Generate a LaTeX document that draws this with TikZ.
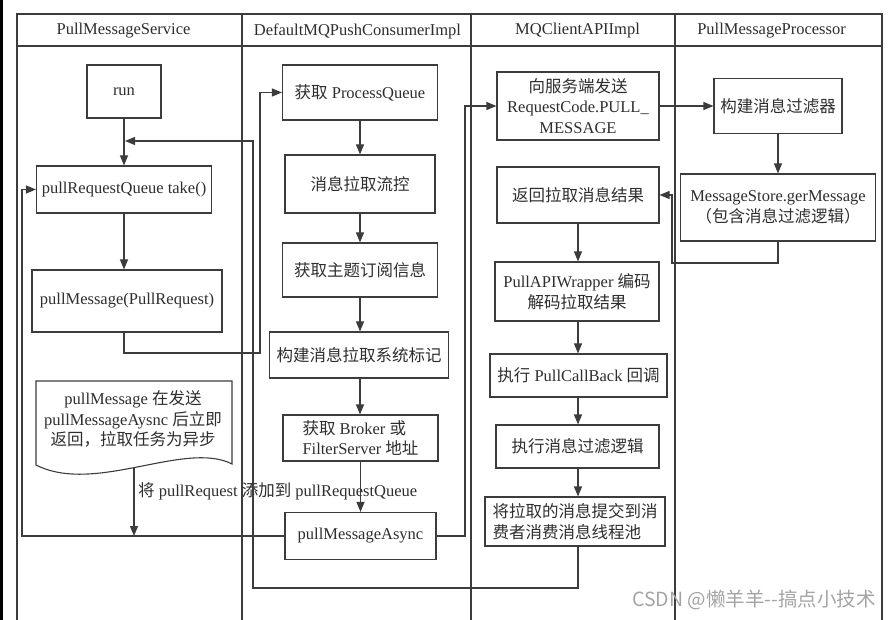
\documentclass[tikz,border=0pt]{standalone}
\usepackage{fontspec}
\setmainfont{Liberation Serif}
\newfontfamily\cjkfont{Noto Sans CJK SC}
\usetikzlibrary{arrows.meta}
\newcommand\zh[1]{{\cjkfont #1}}
\definecolor{ln}{HTML}{3C3C3C}
\definecolor{tx}{HTML}{2E2E2E}
\definecolor{wmc}{HTML}{A4A4A4}
\begin{document}
\begin{tikzpicture}[x=1pt,y=-1pt,
  every node/.style={text=tx, font=\fontsize{16.5}{20.5}\selectfont},
  box/.style={draw=ln, line width=1.1pt, inner sep=2pt, align=center},
  plain/.style={inner sep=0pt, align=center},
  lane/.style={draw=ln, line width=1.1pt},
  conn/.style={draw=ln, line width=1.1pt},
  arr/.style={conn, -{Triangle[length=10pt,width=8pt]}},
  wm/.style={text=wmc, font=\cjkfont\fontsize{19.5}{21}\selectfont, inner sep=0pt}]
\useasboundingbox (0,0) rectangle (892,620);
\fill[black] (0,0) rectangle (3,620);
% swimlane frame
\draw[lane] (17,620) -- (17,14) -- (882,14) -- (882,620);
\draw[lane] (17,46) -- (882,46);
\draw[lane] (242,14) -- (242,620);
\draw[lane] (471,14) -- (471,620);
\draw[lane] (675,14) -- (675,620);
% headers
\node[plain] (h1) at (123.5,31) {PullMessageService};
\node[plain] (h2) at (357.5,31) {DefaultMQPushConsumerImpl};
\node[plain] (h3) at (577.5,31) {MQClientAPIImpl};
\node[plain] (h4) at (771.5,31) {PullMessageProcessor};
% column 1
\node[box, minimum width=74, minimum height=53] (run) at (124,91.5) {run};
\node[box, minimum width=175, minimum height=47] (take) at (124,189.5) {pullRequestQueue take()};
\node[box, minimum width=190, minimum height=62] (pm) at (127,301) {pullMessage(PullRequest)};
\node[plain] (note) at (133,419) {pullMessage \zh{在发送}\\pullMessageAysnc \zh{后立即}\\\zh{返回，拉取任务为异步}};
\draw[conn] (36,381) -- (232,381) -- (232,464) .. controls (185,440) and (95,495) .. (36,465) -- cycle;
\coordinate (nb) at (134,467);
% column 2
\node[box, minimum width=155, minimum height=55] (pq) at (360,92.5) {\zh{获取} ProcessQueue};
\node[box, minimum width=150, minimum height=58] (flow) at (360,184) {\zh{消息拉取流控}};
\node[box, minimum width=155, minimum height=54] (topic) at (360,270) {\zh{获取主题订阅信息}};
\node[box, minimum width=179, minimum height=46] (mark) at (359,355) {\zh{构建消息拉取系统标记}};
\node[box, minimum width=155, minimum height=46, align=left] (broker) at (360.5,438) {\zh{获取} Broker \zh{或}\\FilterServer \zh{地址}};
\node[box, minimum width=151, minimum height=47] (async) at (360.5,536) {pullMessageAsync};
% column 3
\node[box, minimum width=162, minimum height=68] (send) at (578,106) {\zh{向服务端发送}\\RequestCode.PULL\_\\MESSAGE};
\node[box, minimum width=162, minimum height=56] (ret) at (578,195) {\zh{返回拉取消息结果}};
\node[box, minimum width=164, minimum height=59] (wrap) at (577,291.5) {PullAPIWrapper \zh{编码}\\\zh{解码拉取结果}};
\node[box, minimum width=177, minimum height=43] (cb) at (578.5,375.5) {\zh{执行} PullCallBack \zh{回调}};
\node[box, minimum width=163, minimum height=43] (filt) at (577.5,446.5) {\zh{执行消息过滤逻辑}};
\node[box, minimum width=180, minimum height=49, align=left] (commit) at (575,521.5) {\zh{将拉取的消息提交到消}\\\zh{费者消费消息线程池}};
% column 4
\node[box, minimum width=128, minimum height=55] (build) at (778,106) {\zh{构建消息过滤器}};
\node[box, minimum width=195, minimum height=67] (store) at (778,207.5) {MessageStore.gerMessage\\\zh{（包含消息过滤逻辑）}};
% label
\node[plain, anchor=west] (lab) at (138,491) {\zh{将} pullRequest \zh{添加到} pullRequestQueue};
% helper coordinates
\coordinate (c1) at (260,353);
\coordinate (c2) at (465,300);
\coordinate (c3) at (672,263);
\coordinate (c4) at (22,300);
\coordinate (c5) at (253,588);
\coordinate (j1) at (125,141);
% connectors
\draw[arr] (run) -- (take);
\draw[arr] (take.south) -- (take.south |- pm.north);
\draw[arr] (take.south |- pm.south) |- (c1) |- (pq.west);
\draw[arr] (pq) -- (flow);
\draw[arr] (flow) -- (topic);
\draw[arr] (topic.south) -- (topic.south |- mark.north);
\draw[arr] (topic.south |- mark.south) -- (topic.south |- broker.north);
\draw[arr] (broker.south) -- (broker.south |- async.north);
\draw[arr] (async.east) -| (c2) |- (send.west);
\draw[arr] (send.east) -- (build.west);
\draw[arr] (build) -- (store);
\draw[arr] (store.south) |- (c3) |- (ret.east);
\draw[arr] (ret.south) -- (ret.south |- wrap.north);
\draw[arr] (ret.south |- wrap.south) -- (ret.south |- cb.north);
\draw[arr] (ret.south |- cb.south) -- (ret.south |- filt.north);
\draw[arr] (ret.south |- filt.south) -- (ret.south |- commit.north);
\draw[arr] (ret.south |- commit.south) |- (c5) |- (j1);
\draw[arr] (async.west) -| (c4) |- (take.west);
\draw[arr] (nb) -- (nb |- async.west);
% watermark
\node[wm, anchor=east] (wmk) at (876,600) {CSDN @懒羊羊--搞点小技术};
\end{tikzpicture}
\end{document}
